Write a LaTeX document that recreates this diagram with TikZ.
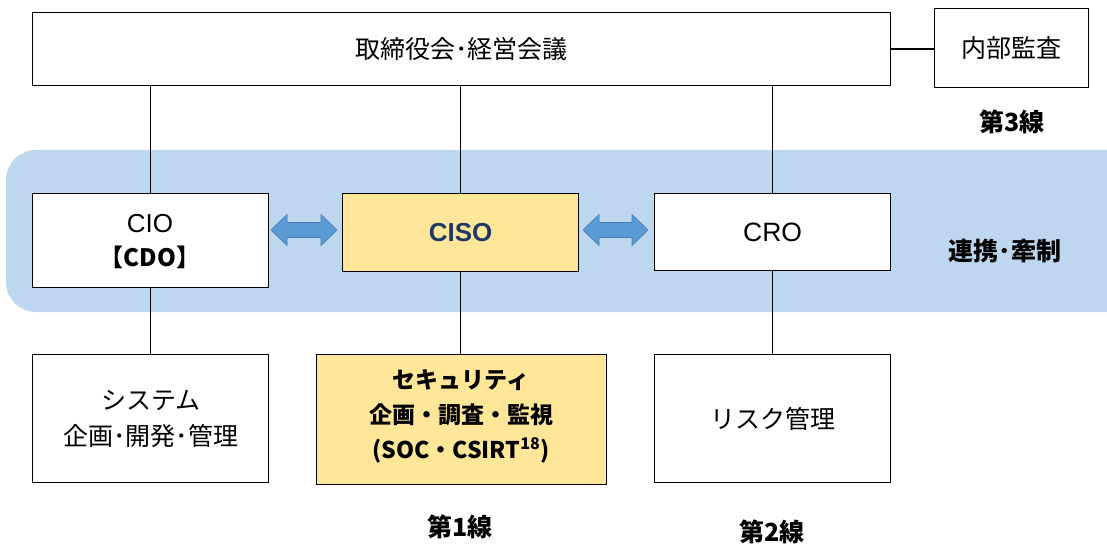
\documentclass[tikz,border=0pt]{standalone}
\usepackage{fontspec}
\setmainfont{Liberation Sans}
\newfontfamily\jp{Noto Sans CJK JP}
\usetikzlibrary{calc}
\definecolor{band}{RGB}{189,215,238}
\definecolor{cisofill}{RGB}{255,230,153}
\definecolor{arrowfill}{RGB}{91,155,213}
\definecolor{arrowline}{RGB}{75,125,175}
\definecolor{navy}{RGB}{31,56,100}
\tikzset{
  box/.style={draw=black, line width=1.3pt, fill=white, inner sep=0pt, anchor=north west},
  link/.style={draw=black, line width=1.4pt},
  blockarrow/.style={fill=arrowfill, draw=arrowline, line width=0.6pt},
  lbl/.style={font=\fontsize{25}{29}\selectfont\jp\bfseries, inner sep=0pt},
  txt/.style={font=\fontsize{25}{36}\selectfont\jp, align=center, inner sep=0pt}
}
% double block arrow from #1 (left x) to #2 (right x) at height #3
\newcommand\dblarrow[3]{%
  \path[blockarrow] (#1,#3) -- ++(16,-15.5) -- ++(0,8) -- (#2-16,#3-7.5) -- ++(0,-8)
    -- (#2,#3) -- ++(-16,15.5) -- ++(0,-8) -- (#1+16,#3+7.5) -- ++(0,8) -- cycle;}
\begin{document}
\begin{tikzpicture}[x=1pt,y=-1pt]
\useasboundingbox (0,0) rectangle (1107,545);
% band
\fill[band, rounded corners=30pt] (6,150) rectangle (1140,312);
% top boxes
\node[box, minimum width=858pt, minimum height=73pt] (board) at (32,12) {};
\node[txt] at (board.center) {取締役会･経営会議};
\node[box, minimum width=154pt, minimum height=79pt] (audit) at (934,8) {};
\node[txt] at (audit.center) {内部監査};
% middle row
\node[box, minimum width=236pt, minimum height=94pt] (cio) at (32,193) {};
\node[font=\fontsize{26}{28}\selectfont, inner sep=0pt] at (150,224) {CIO};
\node[font=\fontsize{24}{28}\selectfont\jp\bfseries, inner sep=0pt] at (150,257) {【CDO】};
\node[box, fill=cisofill, minimum width=236pt, minimum height=78pt] (ciso) at (342,193) {};
\node[font=\fontsize{26}{28}\selectfont\bfseries, text=navy, inner sep=0pt] at (ciso.center) {CISO};
\node[box, minimum width=236pt, minimum height=77pt] (cro) at (654,193) {};
\node[font=\fontsize{26.5}{28}\selectfont, inner sep=0pt] at (cro.center) {CRO};
% bottom row
\node[box, minimum width=236pt, minimum height=128pt] (sys) at (32,354) {};
\node[txt] at (sys.center) {システム\\企画･開発･管理};
\node[box, fill=cisofill, minimum width=290pt, minimum height=130pt] (sec) at (316,354) {};
\node[font=\fontsize{23}{35}\selectfont\jp\bfseries, align=center, inner sep=0pt] at (461,416) {セキュリティ\\企画・調査・監視\\(SOC・CSIRT\textsuperscript{18})};
\node[box, minimum width=236pt, minimum height=128pt] (risk) at (654,354) {};
\node[txt] at (risk.center) {リスク管理};
% connectors
\draw[link] (board.east) -- (board.east -| audit.west);
\draw[link] (cio.north) -- (cio.north |- board.south);
\draw[link] (cio.south) -- (cio.south |- sys.north);
\draw[link] (ciso.north) -- (ciso.north |- board.south);
\draw[link] (ciso.south) -- (ciso.south |- sec.north);
\draw[link] (cro.north) -- (cro.north |- board.south);
\draw[link] (cro.south) -- (cro.south |- risk.north);
% block arrows
\dblarrow{271}{337}{230}
\dblarrow{583}{648}{230}
% labels
\node[lbl] (l3) at (1012,122) {第3線};
\node[lbl] (lr) at (1005,251) {連携･牽制};
\node[lbl] (l1) at (460,527) {第1線};
\node[lbl] (l2) at (772,532) {第2線};
\end{tikzpicture}
\end{document}
